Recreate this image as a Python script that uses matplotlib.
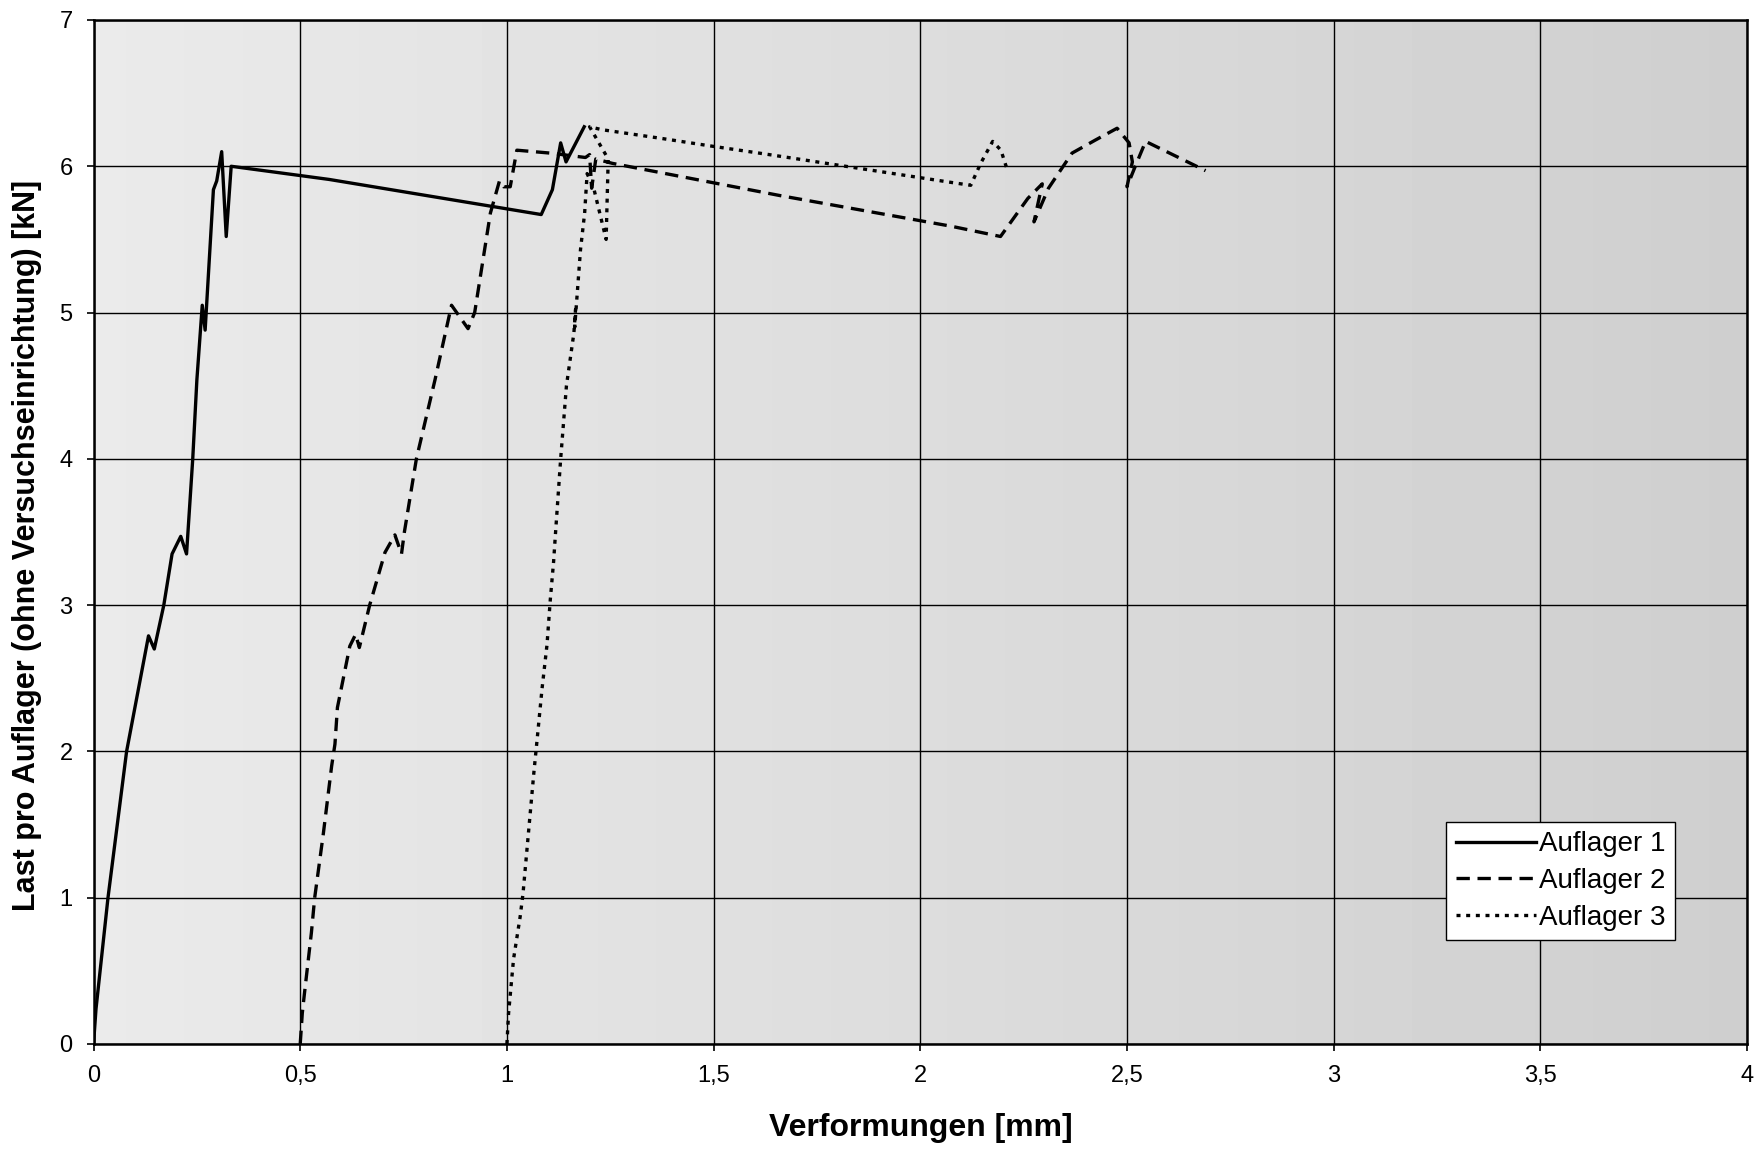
import matplotlib
matplotlib.use("Agg")
import matplotlib.pyplot as plt
import numpy as np

plt.rcParams["font.family"] = ["Liberation Sans", "DejaVu Sans"]

# Auflager 1 (durchgezogen)
x1 = [0, 0.006, 0.035, 0.08, 0.133, 0.147, 0.17, 0.19, 0.211, 0.225, 0.24, 0.25,
      0.263, 0.27, 0.29, 0.298, 0.31, 0.321, 0.333, 0.57, 1.083, 1.11, 1.13, 1.143, 1.187]
y1 = [0, 0.24, 1.0, 2.0, 2.79, 2.70, 3.0, 3.35, 3.47, 3.35, 4.0, 4.54,
      5.05, 4.88, 5.84, 5.9, 6.10, 5.52, 6.0, 5.91, 5.67, 5.84, 6.16, 6.03, 6.27]

# Auflager 2 (gestrichelt)
x2 = [0.5, 0.505, 0.51, 0.527, 0.535, 0.556, 0.576, 0.584, 0.59, 0.62, 0.634, 0.643,
      0.668, 0.705, 0.729, 0.745, 0.752, 0.781, 0.826, 0.866, 0.906, 0.922, 0.96,
      0.982, 0.992, 1.008, 1.024, 1.105, 1.19, 1.2, 1.205, 1.215, 1.255, 1.66, 2.075,
      2.194, 2.26, 2.295, 2.275, 2.31, 2.367, 2.424, 2.476, 2.505, 2.513, 2.5, 2.52,
      2.545, 2.69]
y2 = [0, 0.21, 0.34, 0.76, 1.0, 1.44, 1.9, 2.05, 2.3, 2.72, 2.80, 2.71,
      3.0, 3.36, 3.48, 3.35, 3.5, 4.0, 4.54, 5.05, 4.89, 5.0, 5.68,
      5.90, 5.86, 5.86, 6.11, 6.09, 6.06, 6.08, 5.85, 6.05, 6.02, 5.80, 5.59,
      5.52, 5.78, 5.88, 5.62, 5.85, 6.09, 6.18, 6.26, 6.16, 6.03, 5.86, 6.0,
      6.17, 5.97]

# Auflager 3 (gepunktet)
x3 = [1.0, 1.004, 1.016, 1.032, 1.039, 1.052, 1.065, 1.073, 1.085, 1.097, 1.105,
      1.113, 1.117, 1.13, 1.144, 1.162, 1.166, 1.164, 1.178, 1.188, 1.194, 1.21,
      1.24, 1.245, 1.2, 1.23, 1.375, 1.49, 1.634, 2.074, 2.122, 2.146, 2.175,
      2.195, 2.211]
y3 = [0, 0.21, 0.58, 0.87, 1.03, 1.44, 1.85, 2.08, 2.43, 2.73, 3.04,
      3.3, 3.47, 4.0, 4.5, 4.86, 5.02, 4.9, 5.43, 5.68, 5.95, 5.85,
      5.5, 6.05, 6.27, 6.25, 6.19, 6.14, 6.08, 5.89, 5.87, 6.02, 6.17,
      6.11, 5.97]

xticks = [0, 0.5, 1, 1.5, 2, 2.5, 3, 3.5, 4]
xlabels = ["0", "0,5", "1", "1,5", "2", "2,5", "3", "3,5", "4"]
yticks = [0, 1, 2, 3, 4, 5, 6, 7]

fig = plt.figure(figsize=(17.58, 11.49), dpi=100)
ax = fig.add_axes([0.0532, 0.0914, 0.9406, 0.8912])

# leicht grauer, nach rechts dunkler werdender Hintergrund
grad = np.linspace(0.92, 0.81, 256).reshape(1, -1)
ax.imshow(grad, extent=(0, 1, 0, 1), transform=ax.transAxes, cmap="gray",
          vmin=0, vmax=1, aspect="auto", zorder=0)

lw = 2.4
ax.plot(x1, y1, color="black", lw=lw, ls="-", label="Auflager 1", zorder=3)
ax.plot(x2, y2, color="black", lw=lw, dashes=(4.0, 2.3), label="Auflager 2", zorder=3)
ax.plot(x3, y3, color="black", lw=lw, dashes=(1.2, 1.7), label="Auflager 3", zorder=3)

ax.set_xlim(0, 4)
ax.set_ylim(0, 7)
ax.set_xticks(xticks, xlabels)
ax.set_yticks(yticks)
ax.grid(True, color="black", lw=1.0, zorder=1)
ax.set_axisbelow(False)
for s in ax.spines.values():
    s.set_linewidth(1.8)
    s.set_zorder(4)
ax.tick_params(labelsize=17, direction="out", length=5, width=1.2, pad=10)

ax.set_xlabel("Verformungen [mm]", fontsize=23, fontweight="bold", labelpad=19)
ax.set_ylabel("Last pro Auflager (ohne Versuchseinrichtung) [kN]", fontsize=22,
              fontweight="bold")
ax.yaxis.set_label_coords(-0.031, 0.487)

leg = ax.legend(loc="upper left", bbox_to_anchor=(0.818, 0.217), borderaxespad=0,
                fontsize=20, frameon=True, fancybox=False, handlelength=2.9,
                handletextpad=0.1, labelspacing=0.38, borderpad=0.35)
leg.get_frame().set_edgecolor("black")
leg.get_frame().set_linewidth(1.0)
leg.get_frame().set_facecolor("white")
leg.get_frame().set_alpha(1)
leg.set_zorder(5)

fig.savefig("out.png", dpi=100)
